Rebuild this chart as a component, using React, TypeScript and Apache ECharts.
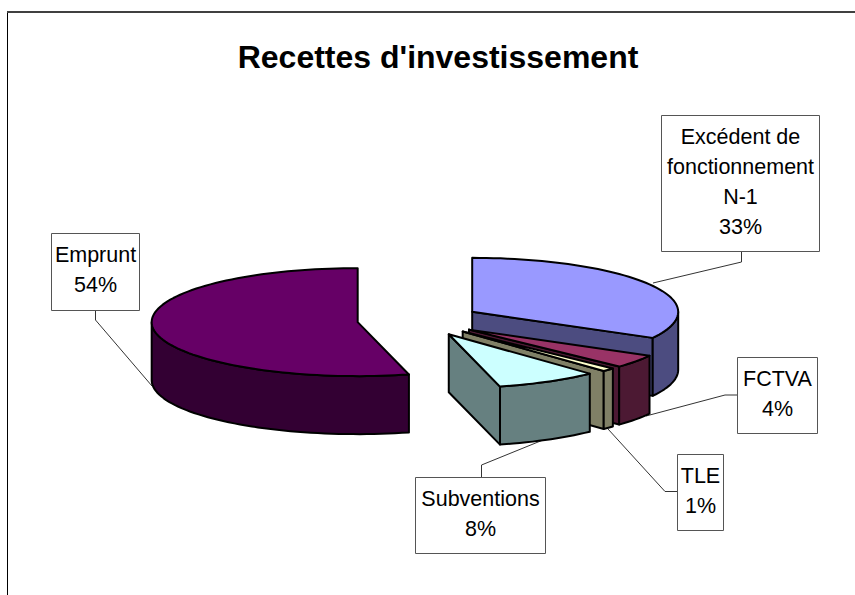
import React, { useEffect, useRef } from "react";
import * as echarts from "echarts";

const chartTitle = "Recettes d'investissement";
const categories = ["Excédent de\nfonctionnement\nN-1", "FCTVA", "TLE", "Subventions", "Emprunt"];
const values = [33, 4, 1, 8, 54];
const topColors = ["#9999FF", "#993366", "#FFFFCC", "#CCFFFF", "#660066"];
const sideColors = ["#4C4C80", "#4C1933", "#808066", "#668080", "#330033"];
const labelBoxes = [
  [661.5, 115.5, 158, 136],
  [737.5, 357.5, 80, 76],
  [677.5, 454.5, 46, 76],
  [415.5, 477.5, 130, 76],
  [51.5, 233.5, 88, 77],
];
const leaders = [
  [[741.5, 252], [741.5, 262], [653, 283]],
  [[737.5, 395], [725, 395], [646, 416]],
  [[677.5, 491.5], [665, 491.5], [608, 429]],
  [[481.5, 477.5], [481.5, 465], [543, 440]],
  [[95.5, 310], [95.5, 320], [152, 386]],
];

const CX = 419;
const CY = 320.1;
const RX = 206;
const RY = 54;
const DEPTH = 58;
const EXPLODE = 0.3;
const total = values.reduce((a, b) => a + b, 0);

function arc(cx: number, cy: number, from: number, to: number) {
  const pts: number[][] = [];
  const n = Math.max(2, Math.ceil((to - from) / 2));
  for (let i = 0; i <= n; i++) {
    const t = ((from + ((to - from) * i) / n) * Math.PI) / 180;
    pts.push([cx + RX * Math.sin(t), cy - RY * Math.cos(t)]);
  }
  return pts;
}

function renderSlice(params: any, api: any) {
  const i = params.dataIndex;
  const before = values.slice(0, i).reduce((a, b) => a + b, 0);
  const start = (before / total) * 360;
  const end = start + (api.value(0) / total) * 360;
  const mid = (((start + end) / 2) * Math.PI) / 180;
  const ax = CX + EXPLODE * RX * Math.sin(mid);
  const ay = CY - EXPLODE * RY * Math.cos(mid);
  const border = { stroke: "#000", lineWidth: 2, lineJoin: "round" };
  const side = { ...border, fill: sideColors[i] };
  const children: any[] = [];
  const radial = (deg: number) => {
    const [p] = arc(ax, ay, deg, deg);
    children.push({
      type: "polygon",
      shape: { points: [[ax, ay], p, [p[0], p[1] + DEPTH], [ax, ay + DEPTH]] },
      style: side,
    });
  };
  // a cut face can be seen when its outward normal points at the viewer
  if (Math.cos(((start - 90) * Math.PI) / 180) < -1e-6) radial(start);
  if (Math.cos(((end + 90) * Math.PI) / 180) < -1e-6) radial(end);
  const wallFrom = Math.max(start, 90);
  const wallTo = Math.min(end, 270);
  if (wallTo > wallFrom) {
    const upper = arc(ax, ay, wallFrom, wallTo);
    const lower = upper.map((p) => [p[0], p[1] + DEPTH]).reverse();
    children.push({ type: "polygon", shape: { points: [...upper, ...lower] }, style: side });
  }
  children.push({
    type: "polygon",
    shape: { points: [[ax, ay], ...arc(ax, ay, start, end)] },
    style: { ...border, fill: topColors[i] },
  });
  return { type: "group", children };
}

export default function App() {
  const ref = useRef<HTMLDivElement>(null);
  useEffect(() => {
    const chart = echarts.init(ref.current!, null, { renderer: "svg" });
    const line = { stroke: "#333", lineWidth: 1 };
    chart.setOption({
      animation: false,
      backgroundColor: "#fff",
      title: {
        text: chartTitle,
        left: 433,
        top: 36,
        textAlign: "center",
        textStyle: { fontFamily: "Liberation Sans", fontSize: 32, fontWeight: "bold", color: "#000" },
      },
      series: [
        {
          type: "custom",
          coordinateSystem: "none",
          silent: true,
          renderItem: renderSlice,
          data: values.map((v, i) => ({ name: categories[i].replace(/\n/g, " "), value: [v] })),
        },
      ],
      graphic: [
        { type: "line", shape: { x1: 7.5, y1: 12, x2: 7.5, y2: 595 }, style: { stroke: "#000", lineWidth: 1 } },
        { type: "line", shape: { x1: 7, y1: 12, x2: 855, y2: 12 }, style: { stroke: "#404040", lineWidth: 2 } },
        ...leaders.map((pts) => ({ type: "polyline", shape: { points: pts }, style: { ...line, fill: "none" } })),
        ...labelBoxes.map(([x, y, w, h]) => ({
          type: "rect",
          shape: { x, y, width: w, height: h },
          style: { fill: "#fff", stroke: "#555", lineWidth: 1 },
        })),
        ...labelBoxes.map(([x, y, w, h], i) => ({
          type: "text",
          x: x + w / 2,
          y: y + h / 2 - 2,
          style: {
            text: `${categories[i]}\n${values[i]}%`,
            fontFamily: "Liberation Sans",
            fontSize: 21.5,
            lineHeight: 30,
            fill: "#000",
            align: "center",
            verticalAlign: "middle",
          },
        })),
      ],
    });
    return () => chart.dispose();
  }, []);
  return <div ref={ref} style={{ position: "absolute", left: 0, top: 0, width: 855, height: 595 }} />;
}
